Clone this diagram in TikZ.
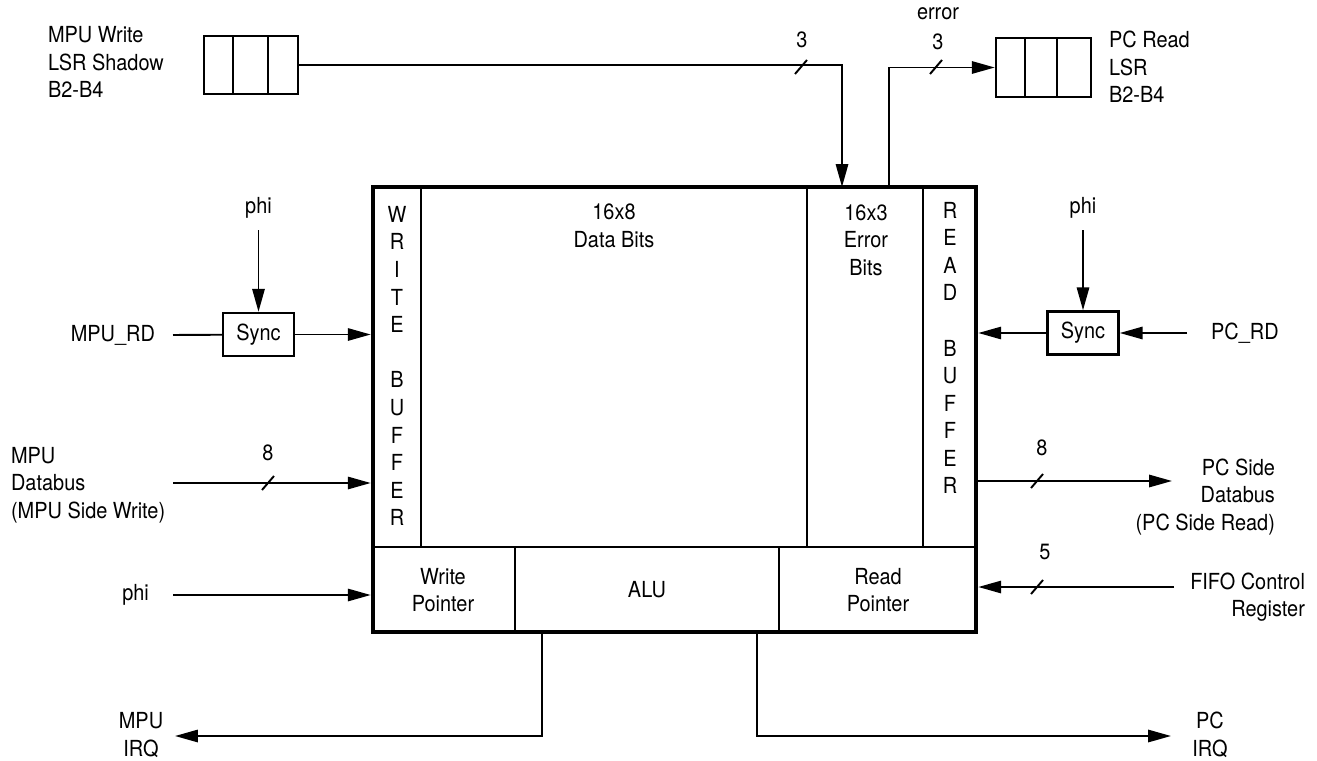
\documentclass[tikz,border=0pt]{standalone}
\usepackage{fontspec}
\setmainfont{TeX Gyre Heros}[FakeStretch=0.9]
\usetikzlibrary{arrows.meta, positioning, fit}

\tikzset{
  sig/.style={line width=1.1pt, -{Triangle[length=13pt,width=7pt]}},
  wire/.style={line width=1.1pt},
  cell/.style={draw, line width=1.1pt, inner sep=0pt},
  regbox/.style={draw, line width=1.4pt, inner sep=0pt},
  syncbox/.style={draw, line width=1.4pt, minimum width=1.42cm, minimum height=0.86cm, inner sep=0pt},
  txt/.style={inner sep=1pt, align=center},
  buswidth/.pic={\draw[line width=1.1pt] (-6,7) -- (6,-7);}
}

\begin{document}
\begin{tikzpicture}[x=0.02cm, y=-0.02cm, font=\fontsize{12.6}{15.7}\selectfont]
    \useasboundingbox (0,0) rectangle (1317,760);

    % FIFO cells
    \node[cell, fit={(373,187) (421,547)}] (wbuf) {};
    \node[cell, fit={(421,187) (807,547)}] (data) {};
    \node[cell, fit={(807,187) (923,547)}] (err) {};
    \node[cell, fit={(923,187) (976,547)}] (rbuf) {};
    \node[cell, fit={(373,547) (515,632)}] (wptr) {};
    \node[cell, fit={(515,547) (779,632)}] (alu) {};
    \node[cell, fit={(779,547) (976,632)}] (rptr) {};
    \node[draw, line width=2.6pt, inner sep=0pt, fit={(373,187) (976,632)}] (fifo) {};

    % Cell texts
    \node[txt] (datatxt) at (614,226) {16x8\\Data Bits};
    \node[txt] (errtxt) at (866,240) {16x3\\Error\\Bits};
    \node[txt] (wbuftxt) at (397,366) {W\\R\\I\\T\\E\\[15.7pt]B\\U\\F\\F\\E\\R};
    \node[txt] (rbuftxt) at (950,348) {R\\E\\A\\D\\[15.7pt]B\\U\\F\\F\\E\\R};
    \node[txt] (wptrtxt) at (443,590) {Write\\Pointer};
    \node[txt] (alutxt) at (647,590) {ALU};
    \node[txt] (rptrtxt) at (878,590) {Read\\Pointer};

    % LSR registers
    \node[regbox, fit={(204,36) (298,94)}] (lsrw) {};
    \foreach \x in {233,268} \draw[wire] (\x,36) -- (\x,94);
    \node[txt, align=left, anchor=west] (lsrwtxt) at (46,62) {MPU Write\\LSR Shadow\\B2-B4};
    \node[regbox, fit={(996,38) (1091,97)}] (lsrr) {};
    \foreach \x in {1025,1057} \draw[wire] (\x,38) -- (\x,97);
    \node[txt, align=left, anchor=west] (lsrrtxt) at (1107,67) {PC Read\\LSR\\B2-B4};

    \coordinate (errin) at (842,187);
    \coordinate (errout) at (889,187);
    \draw[sig] (lsrw.east) -| (errin);
    \draw[sig] (errout) |- (lsrr.west);
    \pic at (801,67) {buswidth};
    \node[txt] (lsrw3) at (802,40) {3};
    \pic at (936,67) {buswidth};
    \node[txt] (lsrr3) at (938,42) {3};
    \node[txt] (errlbl) at (938,14) {error};

    % MPU side
    \node[syncbox] (syncw) at (258.5,334.5) {Sync};
    \coordinate (phiwA) at (258.5,230);
    \node[txt, above=0.2cm of phiwA] (phiw) {phi};
    \draw[sig] (phiwA) -- (syncw);
    \coordinate (mpurdA) at (173,335);
    \node[txt, left=0.32cm of mpurdA] (mpurd) {MPU\_RD};
    \draw[wire] (mpurdA) -- (syncw);
    \draw[sig] (syncw) -- (syncw -| fifo.west);

    \coordinate (dbwA) at (173,483);
    \node[txt, align=left, anchor=west] (dbw) at (9,485) {MPU\\Databus\\(MPU Side Write)};
    \draw[sig] (dbwA) -- (dbwA -| fifo.west);
    \pic at (268,483) {buswidth};
    \node[txt] (dbw8) at (268,453) {8};

    \coordinate (clkA) at (173,595);
    \node[txt, left=0.44cm of clkA] (clk) {phi};
    \draw[sig] (clkA) -- (clkA -| fifo.west);

    % PC side
    \node[syncbox] (syncr) at (1083,333) {Sync};
    \coordinate (phirA) at (1083,230);
    \node[txt, above=0.2cm of phirA] (phir) {phi};
    \draw[sig] (phirA) -- (syncr);
    \coordinate (pcrdA) at (1187,333);
    \node[txt, right=0.44cm of pcrdA] (pcrd) {PC\_RD};
    \draw[sig] (pcrdA) -- (syncr);
    \draw[sig] (syncr) -- (syncr -| fifo.east);

    \coordinate (dbrA) at (1172,481);
    \node[txt, align=right, anchor=east] (dbr) at (1277,497) {PC Side\\Databus\\(PC Side Read)};
    \draw[sig] (dbrA -| fifo.east) -- (dbrA);
    \pic at (1037,481) {buswidth};
    \node[txt] (dbr8) at (1042,448) {8};

    \coordinate (ctlA) at (1174,587);
    \node[txt, align=right, anchor=east] (ctl) at (1307,597) {FIFO Control\\Register};
    \draw[sig] (ctlA) -- (ctlA -| fifo.east);
    \pic at (1037,587) {buswidth};
    \node[txt] (ctl5) at (1045,552) {5};

    % Interrupts
    \coordinate (mirqA) at (542,632);
    \coordinate (mirqB) at (175,736);
    \draw[sig] (mirqA) |- (mirqB);
    \node[txt] (mirq) at (141,735) {MPU\\IRQ};
    \coordinate (pirqA) at (757,632);
    \coordinate (pirqB) at (1171,736);
    \draw[sig] (pirqA) |- (pirqB);
    \node[txt] (pirq) at (1210,735) {PC\\IRQ};
\end{tikzpicture}
\end{document}
